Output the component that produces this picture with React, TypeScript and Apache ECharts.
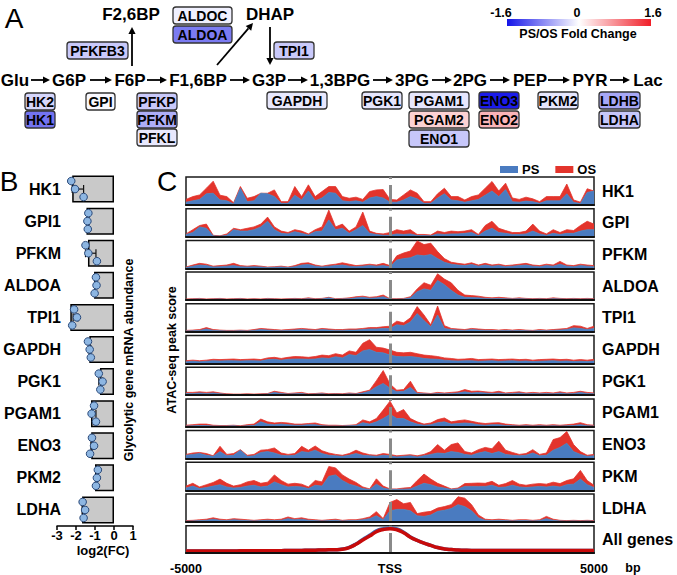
import React, { useEffect, useRef } from "react";
import * as echarts from "echarts";

const FONT = '"Liberation Sans", Arial, Helvetica, sans-serif';

// ---------- Panel A data ----------
const mainMetabolites = ["Glu", "G6P", "F6P", "F1,6BP", "G3P", "1,3BPG", "3PG", "2PG", "PEP", "PYR", "Lac"];
const sideMetabolites = ["F2,6BP", "DHAP"];
const enzymeNames = ["HK2", "HK1", "GPI", "PFKFB3", "PFKP", "PFKM", "PFKL", "ALDOC", "ALDOA", "TPI1", "GAPDH", "PGK1", "PGAM1", "PGAM2", "ENO1", "ENO3", "ENO2", "PKM2", "LDHB", "LDHA"];
const enzymeFoldChange = [-0.28, -0.95, -0.05, -0.37, -0.37, -0.55, -0.16, -0.1, -0.9, -0.37, -0.16, -0.17, -0.17, 0.33, -0.38, -1.55, 0.53, -0.17, -0.6, -0.38];
const foldChangeTicks = ["-1.6", "0", "1.6"];

// ---------- Panel B data ----------
const geneB = ["HK1", "GPI1", "PFKM", "ALDOA", "TPI1", "GAPDH", "PGK1", "PGAM1", "ENO3", "PKM2", "LDHA"];
const barFC = [-2.2, -1.45, -1.37, -1.05, -2.3, -1.3, -0.74, -1.21, -1.2, -1.0, -1.68];
const pointFC = [
  [-2.25, -2.05, -1.6],
  [-1.35, -1.4, -1.38],
  [-1.5, -1.35, -0.9],
  [-0.95, -0.92, -1.02],
  [-2.1, -1.95, -2.2],
  [-1.37, -1.28, -1.22],
  [-0.8, -0.6, -0.72],
  [-1.05, -1.18, -0.95],
  [-1.16, -1.05, -1.26],
  [-0.85, -0.9, -0.95],
  [-1.65, -1.52, -1.6],
];
const errLow = [-2.2, -1.45, -1.5, -1.0, -2.15, -1.35, -0.8, -1.15, -1.22, -0.95, -1.68];
const errHigh = [-1.6, -1.3, -0.95, -0.9, -1.9, -1.2, -0.6, -0.95, -1.08, -0.85, -1.52];
const bTicks = [-3, 1];

// ---------- Panel C data (ATAC-seq peak score, % of track height) ----------
const hk1OS = [20,30,36,60,85,35,30,8,66,24, 30,42,42,54,12,12,66,30,72,30, 48,66,66,30,24,28,20,48,54,55, 20,18,36,54,42,12,12,40,60,30, 30,18,30,36,60,84,50,78,25,20, 28,22,12,30,30,30,75,18,10,58, 50];
const hk1PS = [10,15,20,40,42,18,15,4,60,12, 15,42,40,30,6,6,35,18,50,15, 25,45,42,15,12,15,10,25,30,25, 10,10,18,30,22,6,6,25,40,18, 15,10,15,20,35,50,30,55,12,10, 14,12,6,15,15,15,40,10,5,45, 50];
const gpiOS = [10,25,40,45,5,3,10,30,25,30, 35,45,70,35,20,15,25,20,10,25, 35,95,35,45,20,35,88,20,12,10, 15,25,20,25,8,8,6,20,15,20, 18,20,25,8,40,55,30,22,15,15, 20,45,20,10,25,15,25,22,40,55, 45];
const gpiPS = [8,15,35,30,3,2,5,25,20,20, 25,35,55,25,12,10,18,12,6,18, 20,60,25,30,12,25,40,12,8,5, 5,10,8,10,4,4,3,10,8,10, 10,12,15,4,20,30,15,12,8,8, 10,20,10,5,12,8,12,12,20,25, 25];
const pfkmOS = [5,12,18,15,8,10,12,18,10,8, 10,8,5,6,8,5,10,18,20,12, 8,12,15,20,15,10,12,15,12,18, 10,45,55,62,98,85,90,60,35,22, 18,15,20,12,18,12,15,10,12,15, 18,12,10,15,12,25,12,10,15,12, 10];
const pfkmPS = [3,8,12,10,5,6,8,10,6,5, 6,5,3,4,5,3,6,12,14,8, 5,8,10,12,8,6,8,10,8,10, 6,30,35,38,48,45,50,35,22,15, 12,10,14,8,12,8,10,6,8,10, 12,8,6,10,8,15,8,6,10,8, 6];
const aldoaOS = [4,5,6,4,5,6,4,5,6,4, 5,4,6,5,4,5,6,5,8,5, 6,10,5,6,8,12,14,10,12,18, 5,5,6,12,40,62,53,94,75,62, 35,18,16,14,10,8,10,8,6,8, 6,5,6,5,8,6,5,6,5,6, 5];
const aldoaPS = [2,3,4,2,3,4,2,3,4,2, 3,2,4,3,2,3,4,3,5,3, 4,8,3,4,5,8,10,7,8,12, 3,3,4,8,30,40,35,70,55,35, 18,10,9,8,6,5,6,5,4,5, 4,3,4,3,5,4,3,4,3,4, 3];
const tpi1OS = [5,6,8,15,8,6,5,5,6,5, 8,12,10,8,6,8,10,12,10,8, 12,10,8,8,10,10,12,15,15,18, 20,38,32,50,90,60,25,92,22,12, 10,8,12,10,8,8,6,8,6,8, 6,5,8,6,8,10,12,22,20,12, 20];
const tpi1PS = [3,4,5,10,5,4,3,3,4,3, 5,8,6,5,4,5,6,8,6,5, 8,6,5,5,6,6,8,10,10,12, 12,25,22,35,65,40,18,60,12,8, 6,5,8,6,5,5,4,5,4,5, 4,3,5,4,5,6,8,14,12,8, 12];
const gapdhOS = [10,12,10,12,15,14,15,16,14,15, 16,14,20,22,18,22,25,24,22,25, 30,28,35,30,45,40,72,85,58,55, 48,40,38,40,35,30,28,25,20,18, 15,16,18,14,15,16,14,15,16,14, 15,12,14,15,16,14,15,12,14,12, 15];
const gapdhPS = [6,8,6,8,10,9,10,10,9,10, 10,9,14,15,12,15,16,16,15,16, 20,18,24,20,32,28,45,50,40,38, 30,25,24,25,22,18,16,15,12,10, 9,10,10,8,9,10,8,9,10,8, 9,7,8,9,10,8,9,7,8,7, 9];
const pgk1OS = [10,10,12,10,12,8,5,4,4,5, 4,5,6,14,10,6,8,10,5,6, 8,5,6,5,8,6,12,18,52,88, 40,18,20,50,10,8,6,10,8,10, 12,20,14,15,12,10,14,8,10,12, 8,10,8,10,8,12,8,10,14,10, 8];
const pgk1PS = [6,6,8,6,8,5,3,2,2,3, 2,3,4,10,6,4,5,6,3,4, 5,3,4,3,5,4,8,14,30,42, 25,12,14,28,6,5,4,6,5,6, 8,12,8,10,8,6,8,5,6,8, 5,6,5,6,5,8,5,6,10,6, 5];
const pgam1OS = [6,8,10,10,6,5,5,6,4,8, 10,28,18,14,16,14,10,10,12,14, 8,6,6,5,6,8,25,18,30,60, 92,50,62,30,18,10,14,26,32,18, 22,25,20,15,12,14,15,10,8,6, 8,6,8,6,8,6,8,10,15,8, 6];
const pgam1PS = [3,4,5,5,3,3,3,4,2,4, 5,18,10,8,10,8,6,6,8,8, 4,3,3,3,4,5,15,10,18,30, 45,30,30,18,10,6,8,15,18,10, 12,14,12,8,6,8,8,5,4,3, 4,3,4,3,4,3,4,5,8,4, 3];
const eno3OS = [15,20,22,18,10,44,15,18,32,12, 15,30,32,38,20,15,18,44,30,45, 28,20,15,12,18,30,20,14,12,18, 15,10,12,14,10,15,25,50,30,50, 56,25,20,32,40,35,62,30,22,15, 18,32,15,20,68,75,97,50,25,12, 15];
const eno3PS = [12,15,18,12,8,25,10,12,30,8, 10,22,25,20,12,10,12,25,22,30, 18,12,10,8,12,18,12,10,8,12, 10,6,8,10,6,10,15,20,18,25, 22,15,12,20,25,18,25,15,12,10, 12,20,10,12,30,40,55,25,15,8, 10];
const pkmOS = [15,25,12,20,28,40,25,15,20,30, 35,25,29,55,35,22,25,22,12,35, 30,85,80,55,40,28,12,5,41,15, 5,5,8,10,35,58,40,25,15,5, 8,24,25,26,25,32,18,24,35,22, 18,22,24,22,29,24,35,41,71,35, 18];
const pkmPS = [8,15,6,10,15,20,12,8,10,15, 18,12,15,30,20,12,14,12,6,18, 15,50,55,35,22,15,6,3,22,8, 3,3,4,5,15,25,20,12,8,3, 5,14,14,14,14,18,10,12,18,12, 10,12,14,12,15,12,20,22,40,20, 10];
const ldhaOS = [5,6,8,10,15,10,8,12,10,8, 6,8,10,8,10,18,12,15,10,8, 6,8,10,6,8,8,12,18,37,12, 70,80,65,70,30,35,38,50,55,62, 90,85,62,25,10,8,10,8,6,8, 8,6,8,20,10,6,5,6,5,6, 5];
const ldhaPS = [3,4,5,6,10,6,5,8,6,5, 4,5,6,5,6,12,8,10,6,5, 4,5,6,4,5,5,8,12,22,8, 40,45,45,40,22,20,25,38,42,48, 62,55,40,15,6,5,6,5,4,5, 5,4,5,12,6,4,3,4,3,4, 3];
const allOS = [7,7,7,7,7.5,7.5,7.5,7.5,8,8, 8,8,8.5,8.5,8.5,9,9,9.5,10,10.5, 11,11.5,12,14,20,32,48,62,78,86, 89,85,74,58,46,36,28,20,15,12.5, 11,10,9.5,9.5,9.5,9.5,9.5,9.5,9.5,9.5, 9.5,9.5,9.5,9.5,9.5,9.5,9.5,9.5,9.5,9.5, 9.5];
const allPS = [7,7,7,7,7.5,7.5,7.5,7.5,8,8, 8,8,8.5,8.5,8.5,9,9,9.5,10,10.5, 11,11.5,12,14.5,21,33,50,65,81,89, 92,88,76,59,46,36,28,20,15,12.5, 11,10,9.5,9.5,9.5,9.5,9.5,9.5,9.5,9.5, 9.5,9.5,9.5,9.5,9.5,9.5,9.5,9.5,9.5,9.5, 9.5];

const trackNames = ["HK1", "GPI", "PFKM", "ALDOA", "TPI1", "GAPDH", "PGK1", "PGAM1", "ENO3", "PKM", "LDHA", "All genes"];
const trackOS = [hk1OS, gpiOS, pfkmOS, aldoaOS, tpi1OS, gapdhOS, pgk1OS, pgam1OS, eno3OS, pkmOS, ldhaOS, allOS];
const trackPS = [hk1PS, gpiPS, pfkmPS, aldoaPS, tpi1PS, gapdhPS, pgk1PS, pgam1PS, eno3PS, pkmPS, ldhaPS, allPS];
const bpRange = [-5000, 5000];
const bpTickLabels = ["-5000", "TSS", "5000"];

// ---------- layout (positions only) ----------
const mainRowY = 80;
const mainCenters = [15, 69, 130, 198, 269, 340, 412, 470, 530, 590, 648];
const mainArrows = [[31, 50], [90, 112], [147, 167], [230, 250], [288, 308], [373, 393], [432, 452], [490, 510], [548, 570], [610, 630]];
const sideCenters = [[131, 14], [270, 14]];
const enzymeLayout: Record<string, number[]> = {
  HK2: [25, 93, 30], HK1: [25, 111, 30], GPI: [86, 93, 29], PFKFB3: [67, 42, 61],
  PFKP: [137, 93, 40], PFKM: [137, 111, 40], PFKL: [137, 129, 40],
  ALDOC: [173, 7, 59], ALDOA: [173, 26, 59], TPI1: [274, 42, 40], GAPDH: [267, 92, 60],
  PGK1: [362, 92, 40], PGAM1: [409, 92, 60], PGAM2: [409, 111, 60], ENO1: [409, 130, 60],
  ENO3: [479, 92, 40], ENO2: [479, 111, 40], PKM2: [538, 92, 40], LDHB: [599, 92, 41], LDHA: [599, 111, 41],
};
const trackLeft = 186, trackWidth = 408, trackTop0 = 177, trackStep = 31.7, trackHeight = 28;

const RED = "#e3342c";
const BLUE = "#4a7bc0";

function fcColor(v: number) {
  const t = Math.min(1, Math.abs(v) / 1.6);
  const end = v < 0 ? [20, 20, 232] : [240, 30, 40];
  const c = end.map((e) => Math.round(255 + (e - 255) * t));
  return `rgb(${c.join(",")})`;
}

function arrowEls(x1: number, y1: number, x2: number, y2: number) {
  const ang = Math.atan2(y2 - y1, x2 - x1);
  const L = 7, W = 3.6;
  const c = Math.cos(ang), s = Math.sin(ang);
  const bx = x2 - L * c, by = y2 - L * s;
  return [
    { type: "line", shape: { x1, y1, x2: bx, y2: by }, style: { stroke: "#000", lineWidth: 1.8 } },
    { type: "polygon", shape: { points: [[x2, y2], [bx + W * s, by - W * c], [bx - W * s, by + W * c]] }, style: { fill: "#000" } },
  ];
}

function txt(text: string, x: number, y: number, size: number, opts: any = {}) {
  return {
    type: "text", x, y, rotation: opts.rotation || 0,
    style: {
      text, fill: "#000", fontFamily: FONT, fontSize: size,
      fontWeight: opts.weight || "bold", align: opts.align || "center", verticalAlign: "middle",
    },
  };
}

export default function App() {
  const ref = useRef<HTMLDivElement>(null);
  useEffect(() => {
    if (!ref.current) return;
    const chart = echarts.init(ref.current, null, { renderer: "svg" });
    const binBp = trackOS[0].map((_, i) => bpRange[0] + (i * (bpRange[1] - bpRange[0])) / (trackOS[0].length - 1));

    const graphics: any[] = [];
    // panel letters
    graphics.push(txt("A", 14, 18, 28, { weight: "normal" }));
    graphics.push(txt("B", 9, 181, 28, { weight: "normal" }));
    graphics.push(txt("C", 167, 181, 28, { weight: "normal" }));
    // main pathway
    mainMetabolites.forEach((m, i) => graphics.push(txt(m, mainCenters[i], mainRowY, 17)));
    mainArrows.forEach(([a, b]) => graphics.push(...arrowEls(a, mainRowY, b, mainRowY)));
    sideMetabolites.forEach((m, i) => graphics.push(txt(m, sideCenters[i][0], sideCenters[i][1], 17)));
    graphics.push(...arrowEls(132, 66, 132, 27));
    graphics.push(...arrowEls(217, 65, 253, 23));
    graphics.push(...arrowEls(270, 27, 270, 65));
    // enzymes
    enzymeNames.forEach((n, i) => {
      const [x, y, w] = enzymeLayout[n];
      graphics.push({
        type: "rect", shape: { x, y, width: w, height: 17, r: 3 },
        style: { fill: fcColor(enzymeFoldChange[i]), stroke: "#333", lineWidth: 1.3 },
      });
      graphics.push(txt(n, x + w / 2, y + 9, 14));
    });
    // colour bar
    graphics.push({
      type: "rect", shape: { x: 507, y: 19, width: 144, height: 7 },
      style: {
        fill: new echarts.graphic.LinearGradient(0, 0, 1, 0, [
          { offset: 0, color: fcColor(-1.6) }, { offset: 0.5, color: "#ffffff" }, { offset: 1, color: fcColor(1.6) },
        ]),
      },
    });
    graphics.push(txt(foldChangeTicks[0], 501, 13, 12.5));
    graphics.push(txt(foldChangeTicks[1], 577, 13, 12.5));
    graphics.push(txt(foldChangeTicks[2], 653, 13, 12.5));
    graphics.push(txt("PS/OS Fold Change", 578, 34, 12.5));
    // panel B texts
    graphics.push(txt("log2(FC)", 103, 550, 13));
    graphics.push(txt("Glycolytic gene mRNA abundance", 129, 360, 12.5, { rotation: Math.PI / 2 }));
    // panel C texts
    graphics.push(txt("ATAC-seq peak score", 172, 350, 12.5, { rotation: Math.PI / 2 }));
    trackNames.forEach((n, i) => graphics.push(txt(n, 602, trackTop0 + i * trackStep + trackHeight / 2, 16, { align: "left" })));
    graphics.push(txt("bp", 633, 568, 12.5));

    const grids: any[] = [{ left: 57, top: 173, width: 76, height: 353 }];
    const xAxes: any[] = [{
      type: "value", gridIndex: 0, min: bTicks[0], max: bTicks[1], interval: 1,
      axisLine: { show: true, onZero: false, lineStyle: { color: "#000", width: 1.5 } },
      axisTick: { show: true, length: 4, lineStyle: { color: "#000", width: 1.5 } },
      axisLabel: { color: "#000", fontFamily: FONT, fontWeight: "bold", fontSize: 13, margin: 3 },
      splitLine: { show: false },
    }];
    const yAxes: any[] = [{
      type: "category", gridIndex: 0, data: geneB, inverse: true,
      axisLine: { show: false }, axisTick: { show: false },
      axisLabel: { color: "#000", fontFamily: FONT, fontWeight: "bold", fontSize: 16, margin: -4 },
    }];
    const series: any[] = [
      {
        type: "bar", xAxisIndex: 0, yAxisIndex: 0, data: barFC, barWidth: 27, z: 2,
        itemStyle: { color: "#c9c9c9", borderColor: "#000", borderWidth: 1.5 },
      },
      {
        type: "custom", xAxisIndex: 0, yAxisIndex: 0, z: 6,
        data: geneB.map((_, i) => [errLow[i], errHigh[i], i]),
        encode: { x: [0, 1], y: 2 },
        renderItem: (_p: any, api: any) => {
          const a = api.coord([api.value(0), api.value(2)]);
          const b = api.coord([api.value(1), api.value(2)]);
          const h = 4;
          const st = { stroke: "#111", lineWidth: 1.2 };
          return {
            type: "group", children: [
              { type: "line", shape: { x1: a[0], y1: a[1], x2: b[0], y2: b[1] }, style: st },
              { type: "line", shape: { x1: a[0], y1: a[1] - h, x2: a[0], y2: a[1] + h }, style: st },
              { type: "line", shape: { x1: b[0], y1: b[1] - h, x2: b[0], y2: b[1] + h }, style: st },
            ],
          };
        },
      },
      {
        type: "custom", xAxisIndex: 0, yAxisIndex: 0, z: 7,
        data: pointFC.flatMap((pts, i) => pts.map((v, k) => [v, i, k])),
        encode: { x: 0, y: 1 },
        renderItem: (_p: any, api: any) => {
          const p = api.coord([api.value(0), api.value(1)]);
          const off = (api.value(2) - 1) * 8;
          return { type: "circle", shape: { cx: p[0], cy: p[1] + off, r: 3.8 }, style: { fill: "#8db6e2", stroke: "#2b4a7a", lineWidth: 1 } };
        },
      },
    ];

    trackNames.forEach((_, i) => {
      const gi = i + 1;
      const last = i === trackNames.length - 1;
      grids.push({ left: trackLeft, top: trackTop0 + i * trackStep, width: trackWidth, height: trackHeight, show: true, borderColor: "#1a1a1a", borderWidth: 1.5 });
      xAxes.push({
        type: "value", gridIndex: gi, min: bpRange[0], max: bpRange[1], interval: 5000, z: 5,
        axisLine: { show: true, onZero: false, lineStyle: { color: "#111", width: 2.2 } },
        axisTick: { show: false },
        axisLabel: {
          show: last, color: "#000", fontFamily: FONT, fontWeight: "bold", fontSize: 12.5, margin: 9,
          formatter: (v: number) => (v === 0 ? bpTickLabels[1] : v < 0 ? bpTickLabels[0] : bpTickLabels[2]),
        },
        splitLine: { show: false },
      });
      yAxes.push({ type: "value", gridIndex: gi, min: 0, max: 100, show: false, splitLine: { show: false } });
      const os = trackOS[i].map((v, k) => [binBp[k], v]);
      const ps = trackPS[i].map((v, k) => [binBp[k], v]);
      const markLine = {
        silent: true, symbol: ["none", "none"], label: { show: false },
        lineStyle: { color: "#8a8a8a", width: 3, type: [20, 6] }, data: [{ xAxis: 0 }],
      };
      if (!last) {
        series.push({
          type: "line", name: "OS", xAxisIndex: gi, yAxisIndex: gi, data: os, symbol: "none", z: 2,
          lineStyle: { color: RED, width: 0.8 }, itemStyle: { color: RED }, areaStyle: { color: RED, opacity: 1 },
        });
        series.push({
          type: "line", name: "PS", xAxisIndex: gi, yAxisIndex: gi, data: ps, symbol: "none", z: 3,
          lineStyle: { color: "#4592cf", width: 0.7 }, itemStyle: { color: BLUE }, areaStyle: { color: BLUE, opacity: 1 },
          markLine,
        });
      } else {
        series.push({
          type: "line", name: "PS", xAxisIndex: gi, yAxisIndex: gi, data: ps, symbol: "none", smooth: true, z: 2,
          lineStyle: { color: "#3e6db3", width: 3.5 }, itemStyle: { color: BLUE },
        });
        series.push({
          type: "line", name: "OS", xAxisIndex: gi, yAxisIndex: gi, data: os, symbol: "none", smooth: true, z: 3,
          lineStyle: { color: "#c80a0a", width: 3.5 }, itemStyle: { color: RED }, markLine,
        });
      }
    });

    chart.setOption({
      animation: false,
      textStyle: { fontFamily: FONT },
      legend: {
        data: [{ name: "PS", itemStyle: { color: BLUE } }, { name: "OS", itemStyle: { color: RED } }],
        left: 500, top: 163, icon: "rect", itemWidth: 18, itemHeight: 7, itemGap: 16, padding: 0,
        selectedMode: false,
        textStyle: { color: "#000", fontFamily: FONT, fontWeight: "bold", fontSize: 13, padding: [0, 0, 0, -1] },
      },
      grid: grids,
      xAxis: xAxes,
      yAxis: yAxes,
      series,
      graphic: { elements: graphics },
    });
    return () => chart.dispose();
  }, []);
  return <div ref={ref} style={{ position: "absolute", left: 0, top: 0, width: 677, height: 575, background: "#fff" }} />;
}
